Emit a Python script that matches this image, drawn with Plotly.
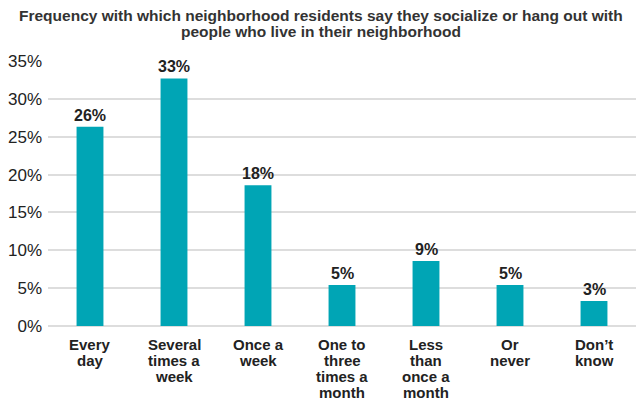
import plotly.graph_objects as go

categories = ["Every day", "Several times a week", "Once a week", "One to three times a month",
              "Less than once a month", "Or never", "Don’t know"]
category_lines = [["Every", "day"], ["Several", "times a", "week"], ["Once a", "week"],
                  ["One to", "three", "times a", "month"], ["Less", "than", "once a", "month"],
                  ["Or", "never"], ["Don’t", "know"]]
values = [26.3, 32.7, 18.6, 5.4, 8.6, 5.4, 3.3]
labels = ["26%", "33%", "18%", "5%", "9%", "5%", "3%"]
y_ticks = [0, 5, 10, 15, 20, 25, 30, 35]
y_ticklabels = ["0%", "5%", "10%", "15%", "20%", "25%", "30%", "35%"]
title_lines = ["Frequency with which neighborhood residents say they socialize or hang out with",
               "people who live in their neighborhood"]

W, H = 636, 400
ML, MR, MT, MB = 48, 0, 61, 74
PH = H - MT - MB
PW = W - ML - MR

fig = go.Figure(go.Bar(
    x=categories, y=values,
    marker=dict(color="#00a5b5", line=dict(width=0)),
    hoverinfo="skip",
))

annotations = []
# title lines
for i, line in enumerate(title_lines):
    annotations.append(dict(
        text=line, xref="paper", yref="paper",
        x=(321 - ML) / PW, y=1 + (MT - (15 + 16 * i)) / PH,
        xanchor="center", yanchor="middle", showarrow=False,
        font=dict(family="Liberation Sans", size=15.5, color="#333333", weight="bold"),
    ))
# value labels above bars
for cat, v, lab in zip(categories, values, labels):
    annotations.append(dict(
        text=lab, xref="x", yref="y", x=cat, y=v,
        xanchor="center", yanchor="bottom", yshift=1, showarrow=False,
        font=dict(family="Liberation Sans", size=16, color="#222222", weight="bold"),
    ))
# category labels, one annotation per line
for cat, lines in zip(categories, category_lines):
    for j, line in enumerate(lines):
        annotations.append(dict(
            text=line, xref="x", yref="paper", x=cat,
            y=-(344 + 16 * j - (H - MB)) / PH,
            xanchor="center", yanchor="middle", showarrow=False,
            font=dict(family="Liberation Sans", size=15, color="#222222", weight="bold"),
        ))

fig.update_layout(
    width=W, height=H,
    margin=dict(l=ML, r=MR, t=MT, b=MB, autoexpand=False),
    paper_bgcolor="white", plot_bgcolor="white",
    bargap=0.68,
    showlegend=False,
    hovermode=False,
    font=dict(family="Liberation Sans", color="#222222"),
    annotations=annotations,
)
fig.update_xaxes(
    showgrid=False, showline=False, ticks="", showticklabels=False, automargin=False,
)
fig.update_yaxes(
    range=[0, 35], tickvals=y_ticks, ticktext=y_ticklabels,
    showgrid=True, gridcolor="#dddddd", gridwidth=2,
    zeroline=True, zerolinecolor="#dddddd", zerolinewidth=2,
    showline=False, ticks="", ticklabelstandoff=5, automargin=False,
    tickfont=dict(family="Liberation Sans", size=17, color="#222222"),
)

fig.write_html("out.html", config={"displayModeBar": False},
               post_script="document.body.style.margin='0';document.body.style.overflow='hidden';")
